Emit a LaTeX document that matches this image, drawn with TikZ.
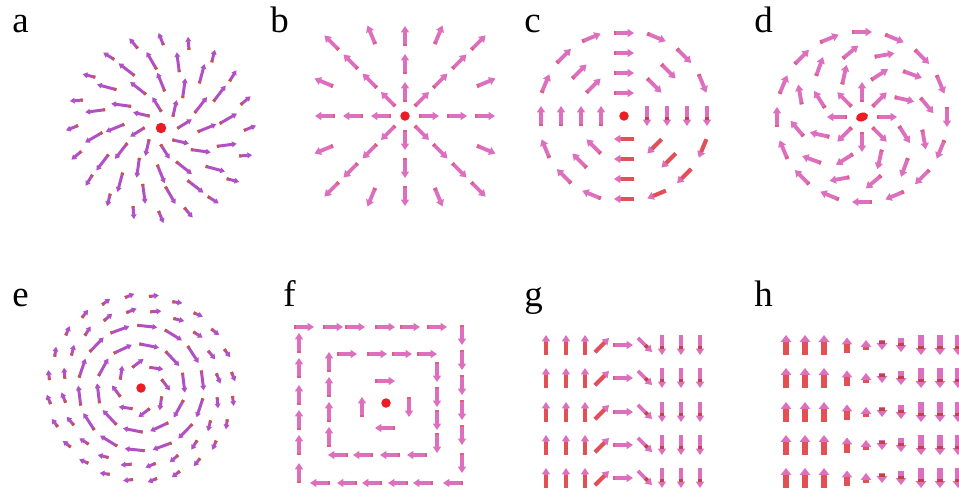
\documentclass[tikz,border=0pt]{standalone}
\usepackage{fontspec}
\setmainfont{Liberation Serif}
\usetikzlibrary{arrows.meta, shapes.geometric}

\definecolor{spinpink}{RGB}{220,112,190}
\definecolor{spinred}{RGB}{226,80,84}
\definecolor{spinpurple}{RGB}{176,80,196}
\definecolor{tailred}{RGB}{205,85,55}
\definecolor{corered}{RGB}{236,28,36}

%% one moment: centre, direction (deg), length (px)
\newcommand{\spin}[4][spin]{%
  \begin{scope}[shift={(#2)}, rotate=#3]
    \draw[#1 body] (-#4/2,0) -- (#4/2,0);
    \draw[#1 tail] (-#4/2,0) -- (-#4/2+2,0);
  \end{scope}}
%% red shaft, pink head
\newcommand{\spinr}[4][spin]{%
  \begin{scope}[shift={(#2)}, rotate=#3]
    \draw[#1 body] (-#4/2,0) -- (#4/2,0);
    \draw[#1 tail, draw=spinred] (-#4/2,0) -- (#4/2-6.5,0);
  \end{scope}}
%% pink shaft, red band under the head
\newcommand{\spinb}[4][spin]{%
  \begin{scope}[shift={(#2)}, rotate=#3]
    \draw[#1 body] (-#4/2,0) -- (#4/2,0);
    \draw[#1 tail, draw=spinred!85!black] (#4/2-9.5,0) -- (#4/2-6.5,0);
  \end{scope}}

\begin{document}
\begin{tikzpicture}[
  x=0.02cm, y=0.02cm,
  %%── Styles ───────────────────────────────────────────────────────────────
  spin body/.style={draw=spinpink, line width=2.2pt,
    -{Triangle[length=1pt 1.2, width=1pt 1.6]}},
  spin tail/.style={draw=spinred!60!spinpink, line width=2.2pt},
  thin body/.style={draw=spinpurple, line width=1.7pt,
    -{Triangle[length=1pt 1.0, width=1pt 1.3]}},
  thin tail/.style={draw=tailred, line width=1.7pt},
  bold body/.style={draw=spinpink, line width=3.2pt,
    -{Triangle[length=1pt 0.9, width=1pt 1.5]}},
  bold tail/.style={draw=spinred, line width=3.2pt},
  core/.style={circle, fill=corered, inner sep=0pt, minimum size=0.19cm},
  lab/.style={font=\fontsize{21}{21}\selectfont, anchor=base west, inner sep=0pt},
]
\useasboundingbox (0,0) rectangle (959,-491);

%%── Panel labels ─────────────────────────────────────────────────────────
\node[lab] (la) at ( 12,-32) {a};
\node[lab] (lb) at (270,-32) {b};
\node[lab] (lc) at (524,-32) {c};
\node[lab] (ld) at (754,-32) {d};
\node[lab] (le) at ( 12,-306) {e};
\node[lab] (lf) at (283,-306) {f};
\node[lab] (lg) at (524,-306) {g};
\node[lab] (lh) at (754,-306) {h};

%%── a: twisted hedgehog (centre 161,128) ─────────────────────────────────
\begin{scope}[shift={(161,-128)}]
  \foreach \r/\n/\l/\o in {24/8/17/10, 46/12/20/0, 68/16/20/8, 89/20/13/0} {
    \foreach \k in {1,...,\n} {
      \pgfmathsetmacro\t{\o+360*\k/\n}
      \spin[thin]{\t:\r}{\t+22}{\l}
    }
  }
  \node[core, minimum size=0.21cm] (ca) at (0,0) {};
\end{scope}

%%── b: radial hedgehog (centre 405,116) ──────────────────────────────────
\begin{scope}[shift={(405,-116)}]
  \foreach \t in {0,90,180,270}
    \foreach \r in {24,52,80} \spin{\t:\r}{\t}{20};
  \foreach \t in {45,135,225,315}
    \foreach \r in {24,50,77,104} \spin{\t:\r}{\t}{20};
  \foreach \t in {22.5,67.5,112.5,157.5,202.5,247.5,292.5,337.5}
    \spin{\t:88}{\t}{20};
  \node[core] (cb) at (0,0) {};
\end{scope}

%%── c: vortex (centre 624,116) ───────────────────────────────────────────
\begin{scope}[shift={(624,-116)}]
  \foreach \r in {23,43,63,83} {
    \spin{90:\r}{0}{20}
    \spin{180:\r}{90}{20}
    \spinb{0:\r}{-90}{20}
    \spinr{270:\r}{180}{20}
  }
  \foreach \r in {43,63} {
    \spin{135:\r}{45}{20}
    \spin{45:\r}{-45}{20}
    \spin{225:\r}{135}{20}
    \spinr{315:\r}{225}{20}
  }
  \foreach \t in {22.5,45,67.5,112.5,135,157.5,202.5,225,247.5}
    \spin{\t:85}{\t-90}{20};
  \foreach \t in {292.5,315,337.5} \spinr{\t:85}{\t-90}{20};
  \node[core] (cc) at (0,0) {};
\end{scope}

%%── d: spiral (centre 862,117) ───────────────────────────────────────────
\begin{scope}[shift={(862,-117)}]
  \foreach \r/\n/\o/\d in {25/8/0/0, 46/8/22.5/-35, 66/12/10/-60, 85/16/0/-90} {
    \foreach \k in {1,...,\n} {
      \pgfmathsetmacro\t{\o+360*\k/\n}
      \spin{\t:\r}{\t+\d}{20}
    }
  }
  \node[core, ellipse, minimum width=0.25cm, minimum height=0.17cm,
        rotate=20] (cd) at (0,0) {};
\end{scope}

%%── e: target texture (centre 141,388) ───────────────────────────────────
\begin{scope}[shift={(141,-388)}]
  \foreach \r/\n/\l/\d in {25/8/14/-60, 43/10/20/-90, 62/14/20/-90,
                           78/20/11/-75, 93/24/10/-75} {
    \foreach \k in {1,...,\n} {
      \pgfmathsetmacro\t{360*\k/\n+7}
      \spin[thin]{\t:\r}{\t+\d}{\l}
    }
  }
  \node[core] (ce) at (0,0) {};
\end{scope}

%%── f: square vortex (centre 386,403) ────────────────────────────────────
\spin{385,-381}{0}{20}
\spin{409,-407}{-90}{20}
\spin{385,-428}{180}{20}
\spin{362,-407}{90}{20}
\foreach \x in {347,377,402,427} \spin{\x,-354}{0}{20};
\foreach \y in {372,397,420,443} \spin{437,-\y}{-90}{20};
\foreach \x in {338,363,390,417} \spin{\x,-455}{180}{20};
\foreach \y in {362,387,412,437} \spin{329,-\y}{90}{20};
\foreach \x in {304,333,355,385,410,437} \spin{\x,-327}{0}{20};
\foreach \y in {335,360,385,410,435,463} \spin{462,-\y}{-90}{20};
\foreach \x in {320,347,372,398,423,453} \spin{\x,-483}{180}{20};
\foreach \y in {343,368,395,420,445,473} \spin{299,-\y}{90}{20};
\node[core] (cf) at (386,-403) {};

%%── g: domain wall, rotating ─────────────────────────────────────────────
\foreach \y in {345,378,412,445,478} {
  \foreach \x in {546,566,585} \spinr{\x,-\y}{90}{20};
  \spinr{602,-\y}{45}{20}
  \spin{623,-\y}{0}{20}
  \spinb{645,-\y}{-45}{20}
  \foreach \x in {662,681,700} \spinb{\x,-\y}{-90}{20};
}

%%── h: domain wall, shrinking ────────────────────────────────────────────
\foreach \y in {345,378,412,445,478} {
  \foreach \x/\l in {786/20,805/20,824/20,847/15,866/10}
    \spinr[bold]{\x,-\y}{90}{\l};
  \foreach \x/\l in {882/10,901/14,921/20,940/20,958/20}
    \spinb[bold]{\x,-\y}{-90}{\l};
}

\end{tikzpicture}
\end{document}
